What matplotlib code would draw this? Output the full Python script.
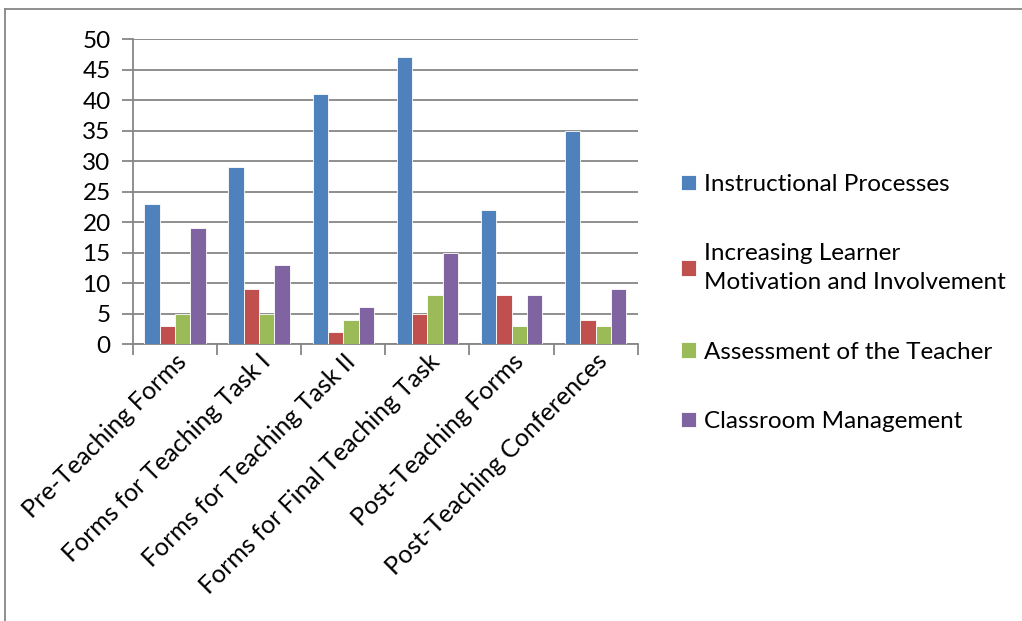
import numpy as np
import matplotlib as mpl
import matplotlib.pyplot as plt
from matplotlib.lines import Line2D

mpl.rcParams['font.family'] = ['Lato', 'DejaVu Sans']

categories = ["Pre-Teaching Forms", "Forms for Teaching Task I", "Forms for Teaching Task II",
              "Forms for Final Teaching Task", "Post-Teaching Forms", "Post-Teaching Conferences"]
series = ["Instructional Processes", "Increasing Learner\nMotivation and Involvement",
          "Assessment of the Teacher", "Classroom Management"]
instructional = [23, 29, 41, 47, 22, 35]
motivation    = [3, 9, 2, 5, 8, 4]
assessment    = [5, 5, 4, 8, 3, 3]
management    = [19, 13, 6, 15, 8, 9]
colors = ["#4F81BD", "#C0504D", "#9BBB59", "#8064A2"]

values = [instructional, motivation, assessment, management]

fig = plt.figure(figsize=(10.22, 6.21), dpi=100)
ax = fig.add_axes([0.130, 0.446, 0.494, 0.491])

x = np.arange(len(categories))
w = 0.182
for i, (vals, c, lab) in enumerate(zip(values, colors, series)):
    ax.bar(x + (i - 1.5) * w, vals, w, color=c, label=lab, edgecolor='white',
           linewidth=0.6, zorder=3)

ax.set_xlim(-0.5, len(categories) - 0.5)
ax.set_ylim(0, 50)
ax.set_yticks(np.arange(0, 51, 5))
ax.yaxis.grid(True, color='#868686', lw=1.3, zorder=0)
for s in ['top', 'right']:
    ax.spines[s].set_visible(False)
for s in ['left', 'bottom']:
    ax.spines[s].set_color('#868686')
    ax.spines[s].set_linewidth(1.3)
ax.tick_params(axis='y', length=8, width=1.3, color='#868686', labelsize=17.5, pad=8)
# major ticks sit between the groups, labels go on the minor ticks
ax.set_xticks(np.arange(-0.5, len(categories)), minor=False)
ax.set_xticklabels([])
ax.tick_params(axis='x', length=8, width=1.3, color='#868686')
ax.set_xticks(x, minor=True)
ax.set_xticklabels(categories, minor=True, rotation=45, ha='right', va='top',
                   rotation_mode='anchor', fontsize=18)
ax.tick_params(axis='x', which='minor', length=0, pad=4)

# legend at the right of the plot area
leg = ax.legend(loc='center left', bbox_to_anchor=(0.645, 0.512), bbox_transform=fig.transFigure,
                frameon=False, fontsize=17.5, handlelength=0.6, handleheight=0.6,
                handletextpad=0.35, labelspacing=2.0)
for t in leg.get_texts():
    t.set_linespacing(1.45)

# outer chart frame
fig.add_artist(Line2D([5/1022, 1], [1 - 9/621, 1 - 9/621], color='#868686', lw=1.3))
fig.add_artist(Line2D([5/1022, 5/1022], [0, 1 - 9/621], color='#868686', lw=1.3))

fig.savefig("out.png", dpi=100)
